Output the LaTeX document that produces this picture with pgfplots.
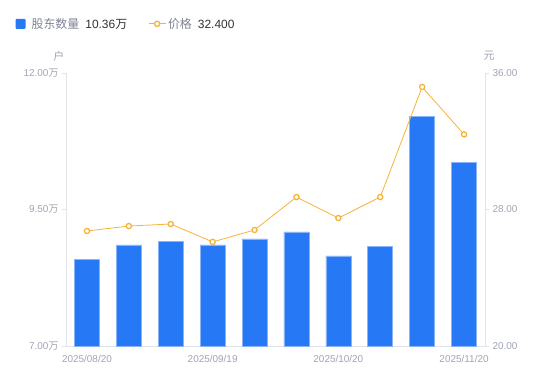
\documentclass[border=0pt]{standalone}
\usepackage{fontspec}
\setmainfont{Liberation Sans}
\newfontfamily\cjk{Noto Sans CJK SC}
\usepackage{pgfplots}
\pgfplotsset{compat=1.18}
\definecolor{barblue}{HTML}{2778F4}
\definecolor{baredge}{HTML}{8AB4F8}
\definecolor{lineor}{HTML}{F7B23B}
\definecolor{axgrey}{HTML}{E2E3E8}
\definecolor{txtgrey}{HTML}{A0A3B4}
\definecolor{leggrey}{HTML}{7E8394}
\definecolor{dark}{HTML}{333333}
\begin{document}
\begin{tikzpicture}[x=1bp,y=1bp]
\useasboundingbox (0,0) rectangle (550,381);
\begin{axis}[at={(66bp,35bp)}, anchor=south west, width=419bp, height=273bp, scale only axis,
  xmin=-0.5, xmax=9.5, ymin=7, ymax=12, clip=false,
  axis x line*=bottom, axis y line*=left,
  axis line style={axgrey, line width=0.8bp},
  xtick={0,3,6,9}, xticklabels={2025/08/20,2025/09/19,2025/10/20,2025/11/20},
  x tick style={draw=none},
  ytick={7,9.5,12}, yticklabels={7.00{\cjk 万},9.50{\cjk 万},12.00{\cjk 万}},
  y tick style={axgrey, line width=0.8bp},
  tick align=outside, major tick length=4bp,
  ticklabel style={font=\fontsize{10}{12}\selectfont, text=txtgrey},
  xticklabel style={yshift=-2bp},
  legend columns=2,
  legend style={draw=none, fill=none, at={(-0.128,1.18)}, anchor=west,
    font=\fontsize{12}{14}\selectfont, text=leggrey,
    /tikz/every even column/.append style={column sep=19bp}},
  legend cell align=left,
]
\addplot[ybar, bar width=25bp, fill=barblue, draw=baredge, line width=0.6bp,
  legend image code/.code={\path[draw=none, fill=none] (0bp,0bp) -- (14bp,0bp); \fill[draw=none, barblue, rounded corners=1bp] (0bp,-5bp) rectangle (10bp,5bp);}]
  coordinates {(0,8.59) (1,8.85) (2,8.92) (3,8.85) (4,8.96) (5,9.09) (6,8.65) (7,8.83) (8,11.21) (9,10.36)};
\addlegendentry{{\cjk 股东数量}\hspace{6bp}{\color{dark}10.36{\cjk 万}}}
\addlegendimage{lineor, line width=0.8bp, mark=*, mark size=2.6bp, mark options={fill=white, draw=lineor, line width=1.3bp}}
\addlegendentry{{\cjk 价格}\hspace{6bp}{\color{dark}32.400}}
\node[text=txtgrey, font=\fontsize{11}{13}\selectfont\cjk] at (rel axis cs:-0.017,1.062) {户};
\node[text=txtgrey, font=\fontsize{11}{13}\selectfont\cjk] at (rel axis cs:1.0095,1.062) {元};
\end{axis}
\begin{axis}[at={(66bp,35bp)}, anchor=south west, width=419bp, height=273bp, scale only axis,
  xmin=-0.5, xmax=9.5, ymin=20, ymax=36, clip=false,
  axis x line=none, axis y line*=right,
  axis line style={axgrey, line width=0.8bp},
  ytick={20,28,36},
  y tick style={axgrey, line width=0.8bp},
  tick align=outside, major tick length=4bp,
  yticklabel style={font=\fontsize{10}{12}\selectfont, text=txtgrey,
    /pgf/number format/.cd, fixed, fixed zerofill, precision=2, assume math mode=true},
]
\addplot[lineor, line width=0.8bp, mark=*, mark size=2.6bp, mark options={fill=white, draw=lineor, line width=1.3bp}]
  coordinates {(0,26.74) (1,27.03) (2,27.15) (3,26.10) (4,26.80) (5,28.73) (6,27.50) (7,28.73) (8,35.18) (9,32.40)};
\end{axis}
\end{tikzpicture}
\end{document}
